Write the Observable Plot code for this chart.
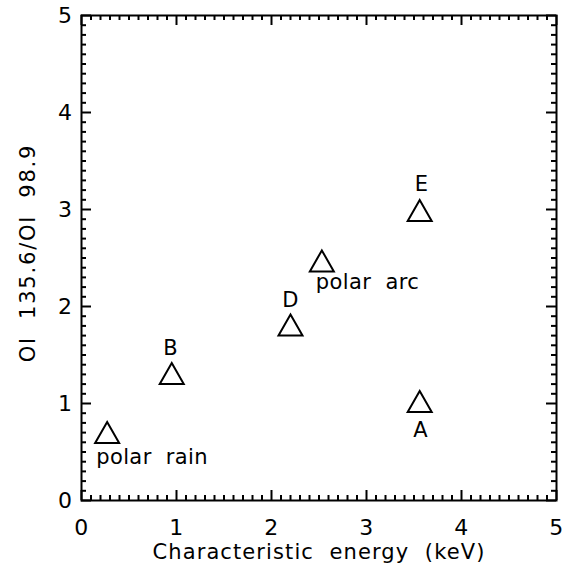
<!DOCTYPE html>
<html>
<head>
<meta charset="utf-8">
<script src="https://cdn.jsdelivr.net/npm/d3@7"></script>
<script src="https://cdn.jsdelivr.net/npm/@observablehq/plot@0.6"></script>
<style>
  html, body { margin: 0; padding: 0; background: #fff; }
  svg { display: block; }
  svg text { white-space: pre; }
  .tick-label text { letter-spacing: 0.5px; }
  .axis-title text { letter-spacing: 1.1px; }
  .axis-title-y text { letter-spacing: 1.8px; }
  .point-label text { letter-spacing: 0.4px; }
</style>
</head>
<body>
<div id="chart"></div>
<script>
// Events: characteristic energy (keV) vs. OI 135.6 / OI 98.9 ratio
const names  = ["polar  rain", "B", "D", "polar  arc", "E", "A"];
const energy = [0.27, 0.95, 2.20, 2.53, 3.56, 3.56];
const ratio  = [0.70, 1.31, 1.81, 2.47, 2.99, 1.02];
// label placement relative to each symbol
const labelAnchor = ["start", "middle", "middle", "start", "middle", "middle"];
const labelDx = [-11, -1, 0, -6, 2, 1];
const labelDy = [25, -25, -25, 21, -26, 29];

const majorTicks = [0, 1, 2, 3, 4, 5];
const minorTicks = d3.ticks(0, 5, 50).filter(t => !majorTicks.includes(t));

const xLabel = "Characteristic  energy  (keV)";
const yLabel = "OI  135.6/OI  98.9";

const points = names.map((name, i) => ({name, energy: energy[i], ratio: ratio[i]}));

const W = 568, H = 571;
const M = {top: 15, right: 12, bottom: 71, left: 81};
const innerW = W - M.left - M.right;
const innerH = H - M.top - M.bottom;
const majorLen = 10, minorLen = 5;
const font = "DejaVu Sans, sans-serif";

// open triangle centred on its bounding box
const triangle = {
  draw(context, size) {
    const r = Math.sqrt(size / Math.PI);
    const hw = 1.2 * r, hh = 1.05 * r;
    context.moveTo(0, -hh);
    context.lineTo(hw, hh);
    context.lineTo(-hw, hh);
    context.closePath();
  }
};

// inward ticks on all four sides of the box
function boxTicks(values, len) {
  const s = {stroke: "black", strokeWidth: 2};
  return [
    Plot.tickX(values, {x: d => d, insetTop: innerH - len, ...s}),
    Plot.tickX(values, {x: d => d, insetBottom: innerH - len, ...s}),
    Plot.tickY(values, {y: d => d, insetRight: innerW - len, ...s}),
    Plot.tickY(values, {y: d => d, insetLeft: innerW - len, ...s})
  ];
}

// one text mark per label so each can carry its own offset
const pointLabels = points.map((p, i) =>
  Plot.text([p], {
    x: "energy", y: "ratio", text: "name",
    textAnchor: labelAnchor[i], dx: labelDx[i], dy: labelDy[i],
    fontSize: 21, fill: "black", className: "point-label"
  })
);

const chart = Plot.plot({
  width: W,
  height: H,
  marginTop: M.top,
  marginRight: M.right,
  marginBottom: M.bottom,
  marginLeft: M.left,
  style: {background: "#fff", color: "black", fontFamily: font, fontSize: "21px"},
  x: {domain: [0, 5]},
  y: {domain: [0, 5]},
  marks: [
    ...boxTicks(minorTicks, minorLen),
    ...boxTicks(majorTicks, majorLen),
    Plot.frame({stroke: "black", strokeWidth: 2}),
    Plot.axisX(majorTicks, {anchor: "bottom", tickSize: 0, tickPadding: 19, fontSize: 22, tickFormat: "d", label: null, className: "tick-label"}),
    Plot.axisY(majorTicks, {anchor: "left", tickSize: 0, tickPadding: 9, fontSize: 22, tickFormat: "d", label: null, className: "tick-label"}),
    Plot.text([xLabel], {frameAnchor: "bottom", dy: 58, fontSize: 21, lineAnchor: "bottom", className: "axis-title"}),
    Plot.text([yLabel], {frameAnchor: "left", textAnchor: "middle", rotate: -90, dx: -53, dy: -5, fontSize: 21, className: "axis-title-y"}),
    Plot.dot(points, {x: "energy", y: "ratio", symbol: triangle, r: 10, stroke: "black", strokeWidth: 2, fill: "none", strokeLinejoin: "miter"}),
    ...pointLabels
  ]
});

document.getElementById("chart").appendChild(chart);
</script>
</body>
</html>
